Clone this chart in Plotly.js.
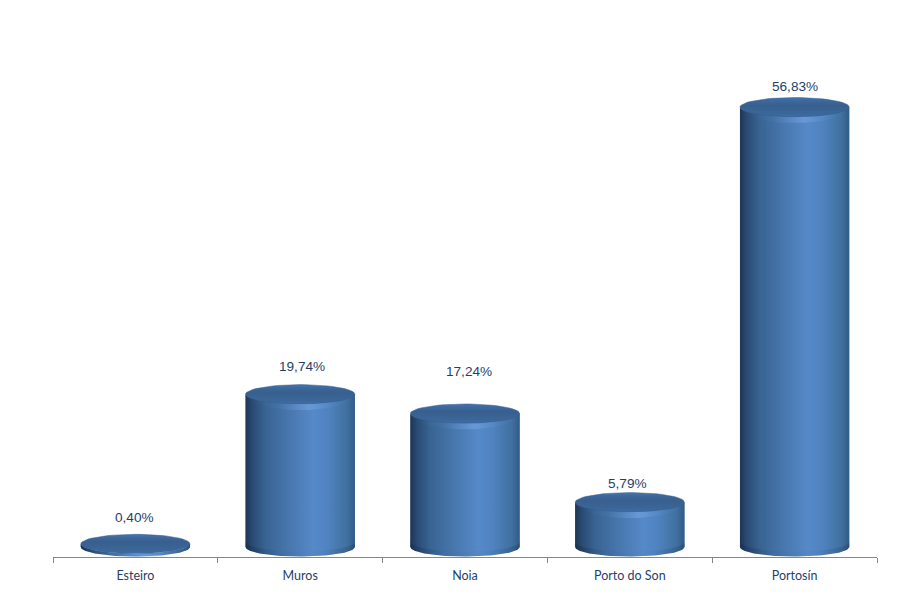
<!DOCTYPE html>
<html><head><meta charset="utf-8">
<script src="https://cdn.plot.ly/plotly-3.0.1.min.js"></script>
<style>html,body{margin:0;padding:0;background:#fff}#c{width:897px;height:596px}</style>
</head><body><div id="c"></div>
<script>
const categories = ["Esteiro","Muros","Noia","Porto do Son","Portosín"];
const shares = [0.40,19.74,17.24,5.79,56.83];
const shareLabels = ["0,40%","19,74%","17,24%","5,79%","56,83%"];
const labelGapPx = [7,9,23,0,2];
const labelShiftPx = [-1,2,4,-2,0];

const W=897,H=596,mL=53,mR=20,mT=20,mB=39;
const pxPerUnit=7.74, zeroPx=547;
const yMin=-(H-mB-zeroPx)/pxPerUnit, yMax=(zeroPx-mT)/pxPerUnit;
const rx=0.3315, ry=9.6/pxPerUnit;
const bodyScale=[[0,'#1e3653'],[0.06,'#294a72'],[0.18,'#386392'],[0.4,'#4877ae'],[0.62,'#5689c8'],[0.76,'#4f82bf'],[0.93,'#40709f'],[1,'#325a86']];
const hl=[[0,'rgba(130,175,235,0)'],[0.3,'rgba(130,175,235,0.05)'],[0.58,'rgba(140,185,245,0.35)'],[0.8,'rgba(130,175,235,0.06)'],[1,'rgba(130,175,235,0)']];
const shade=[[0,'rgba(15,35,65,0.3)'],[0.3,'rgba(15,35,65,0.03)'],[0.7,'rgba(15,35,65,0.02)'],[1,'rgba(15,35,65,0.22)']];
const capScale=[[0,'#3f6ea9'],[0.14,'#3b6799'],[0.6,'#385f8e'],[0.85,'#3c6a9f'],[1,'#4675b2']];
const N=60;
function arc(cx,cy,a0,a1,dy){const xs=[],ys=[];for(let i=0;i<=N;i++){const t=a0+(a1-a0)*i/N;xs.push(cx+rx*Math.cos(t));ys.push(cy+ry*Math.sin(t)+(dy||0));}return [xs,ys];}
function fillTrace(xs,ys,grad,line){return {type:'scatter',xaxis:'x2',yaxis:'y',x:xs,y:ys,mode:'lines',fill:'toself',line:line||{width:0,color:'rgba(0,0,0,0)'},fillgradient:grad,hoverinfo:'skip',showlegend:false};}

const traces=[{type:'bar',x:categories,y:shares,width:rx*2,marker:{color:'#4070a8',line:{width:0}},showlegend:false,hovertemplate:'%{x}: %{y}%<extra></extra>'}];
shares.forEach((v,i)=>{
  const f=arc(i,0,Math.PI,2*Math.PI);
  const lower=f[0].map((_,k)=>-Math.abs(ry*Math.sin(Math.PI*k/N)));
  const upper=f[0].map((_,k)=>v-Math.abs(ry*Math.sin(Math.PI*k/N)));
  traces.push(fillTrace(f[0].concat(f[0].slice().reverse()),lower.concat(upper.slice().reverse()),{type:'horizontal',colorscale:bodyScale}));
  const sx=f[0].concat(f[0].slice().reverse());
  const bandH=Math.min(v+ry,10/pxPerUnit);
  traces.push(fillTrace(sx,lower.concat(lower.slice().reverse().map(y=>y+bandH*0.5)),{type:'horizontal',colorscale:shade}));
  const bh=Math.min(v+ry,14/pxPerUnit)*0.45;
  const hy=upper.map((y,k)=>y-bh*Math.sin(Math.PI*k/N));
  traces.push(fillTrace(sx,hy.concat(upper.slice().reverse()),{type:'horizontal',colorscale:hl}));
  const c=arc(i,v,0,2*Math.PI);
  traces.push(fillTrace(c[0],c[1],{type:'vertical',colorscale:capScale},{width:0.6,color:'rgba(50,90,140,0.8)'}));
});

const annotations=shares.map((v,i)=>({xref:'x2',yref:'y',x:i,y:v+ry,yanchor:'bottom',yshift:labelGapPx[i],xshift:labelShiftPx[i],text:shareLabels[i],showarrow:false,font:{family:'Liberation Sans, Arial, sans-serif',size:13.6,color:'#1f3f6a'}}));

const layout={width:W,height:H,margin:{l:mL,r:mR,t:mT,b:mB,pad:0},paper_bgcolor:'#fff',plot_bgcolor:'#fff',showlegend:false,
 xaxis:{type:'category',categoryorder:'array',categoryarray:categories,range:[-0.5,4.5],tickson:'boundaries',ticks:'outside',ticklen:5,tickwidth:1,tickcolor:'#868686',ticklabelstandoff:7,showline:true,linecolor:'#868686',linewidth:1,showgrid:false,zeroline:false,tickfont:{family:'Lato, sans-serif',size:12.5,color:'#1f3f6a'},fixedrange:true},
 xaxis2:{type:'linear',range:[-0.5,4.5],overlaying:'x',anchor:'y',visible:false,fixedrange:true},
 yaxis:{range:[yMin,yMax],visible:false,fixedrange:true},
 annotations};
Plotly.newPlot('c',traces,layout,{displayModeBar:false,staticPlot:true});
</script></body></html>
